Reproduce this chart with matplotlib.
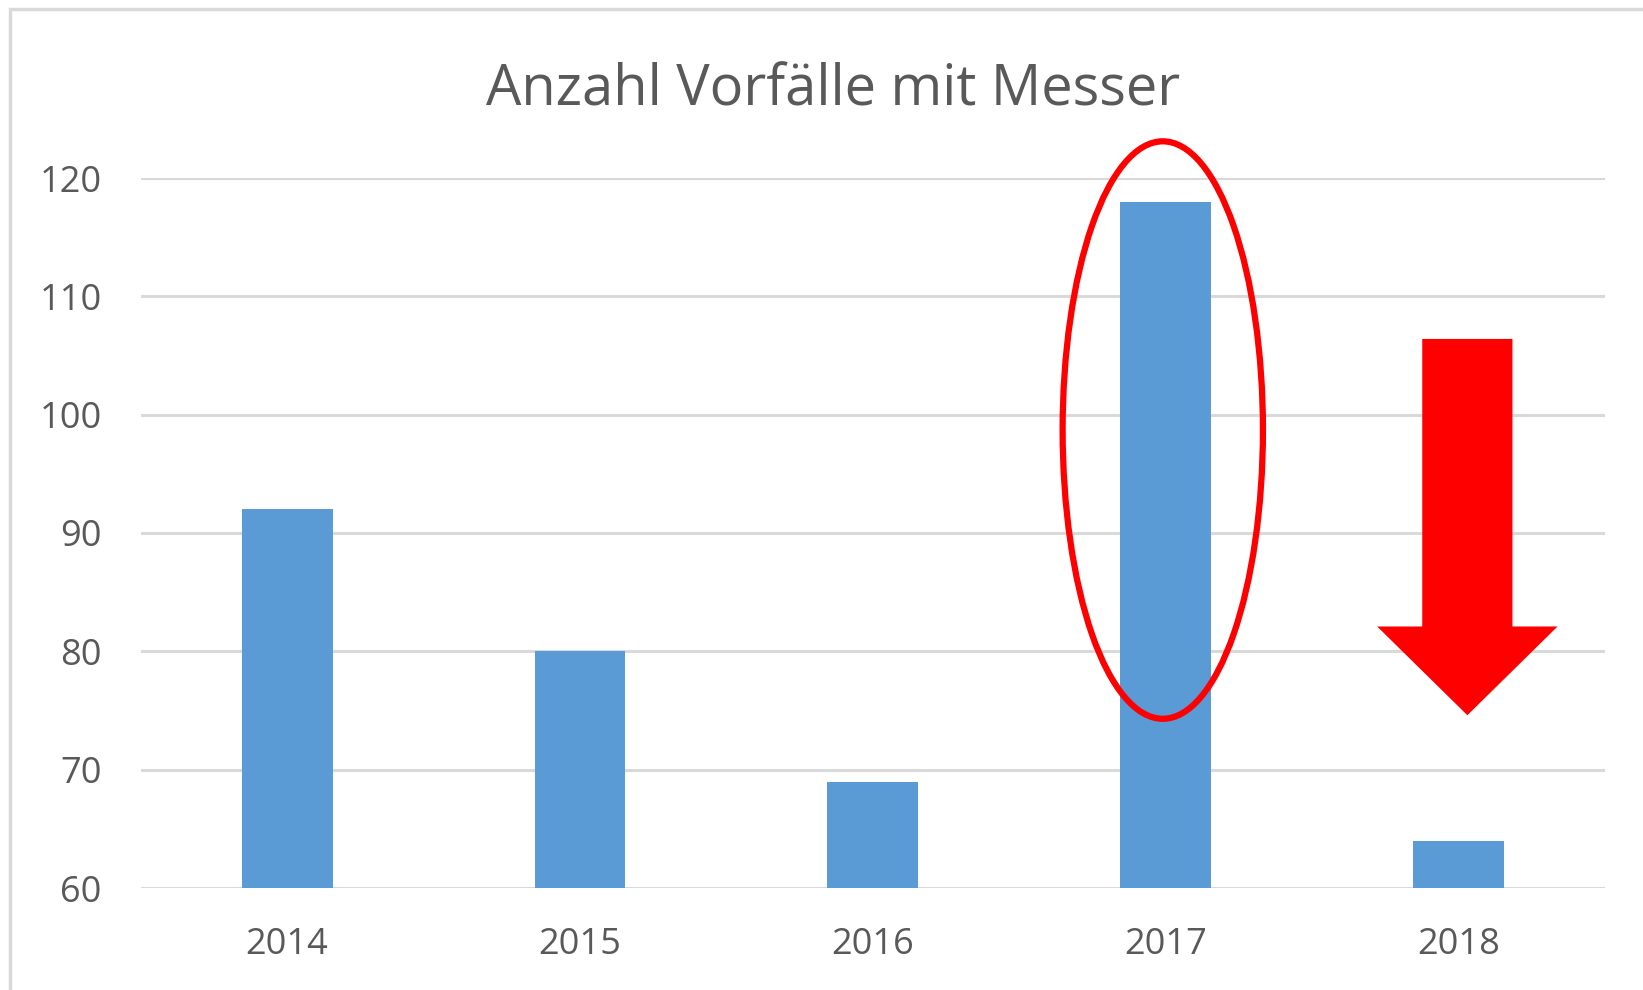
import matplotlib.pyplot as plt
from matplotlib.patches import Ellipse, Polygon, Rectangle
import numpy as np

plt.rcParams['font.family'] = ['Open Sans', 'DejaVu Sans']

# data
years = ["2014", "2015", "2016", "2017", "2018"]
incidents = [92, 80, 69, 118, 64]
y_ticks = [60, 70, 80, 90, 100, 110, 120]

BAR_COLOR = "#5b9bd5"
GRID_COLOR = "#d9d9d9"
TEXT_COLOR = "#595959"

W, H = 1643, 990
fig = plt.figure(figsize=(W / 100, H / 100), dpi=100)
fig.patch.set_facecolor("white")

# chart frame (only top/left visible, like the cropped screenshot)
fig.patches.append(Rectangle((10 / W, -0.1), 1.2, 1 - 9 / H + 0.1,
                             transform=fig.transFigure, fill=False,
                             edgecolor=GRID_COLOR, linewidth=2.5))

ax = fig.add_axes([140.7 / W, 1 - 888 / H, (1605 - 140.7) / W, (888 - 178) / H])
x = np.arange(len(years))
ax.bar(x, incidents, width=0.31, color=BAR_COLOR, zorder=2)
ax.set_xlim(-0.5, len(years) - 0.5)
ax.set_ylim(60, 120)
ax.set_yticks(y_ticks)
ax.set_xticks(x, years)
ax.yaxis.grid(True, color=GRID_COLOR, linewidth=2.2, zorder=0)
ax.set_axisbelow(True)
for s in ax.spines.values():
    s.set_visible(False)
ax.tick_params(length=0, labelsize=26, labelcolor=TEXT_COLOR)
ax.tick_params(axis='y', pad=28)
ax.tick_params(axis='x', pad=28)

# highlight 2017
ax.add_patch(Ellipse((2.99, 98.7), 0.684, 48.8, fill=False, edgecolor="#ff0000",
                     linewidth=4.5, clip_on=False, zorder=5))

# down arrow over 2018
cx = 4.03
arrow = Polygon([(cx - 0.154, 106.4), (cx + 0.154, 106.4), (cx + 0.154, 82.1),
                 (cx + 0.308, 82.1), (cx, 74.6), (cx - 0.308, 82.1),
                 (cx - 0.154, 82.1)], closed=True, facecolor="#ff0000",
                edgecolor="none", clip_on=False, zorder=5)
ax.add_patch(arrow)

fig.text(833 / W, 1 - 105 / H, "Anzahl Vorfälle mit Messer", ha="center",
         va="baseline", fontsize=40.3, color=TEXT_COLOR)

fig.savefig("out.png", dpi=100)
